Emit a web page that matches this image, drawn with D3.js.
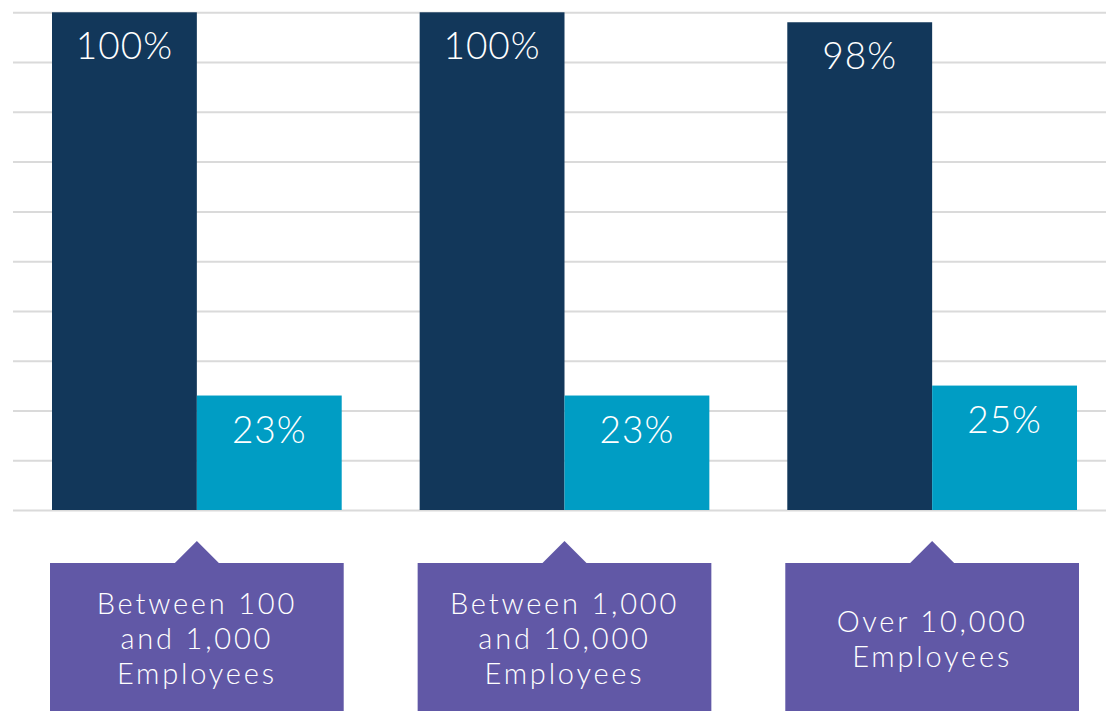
<!DOCTYPE html>
<html>
<head>
<meta charset="utf-8">
<script src="https://cdn.jsdelivr.net/npm/d3@7/dist/d3.min.js"></script>
<style>
  html, body { margin: 0; padding: 0; background: #ffffff; }
  svg { display: block; }
  text { font-family: Lato, "Open Sans", sans-serif; }
</style>
</head>
<body>
<svg id="chart" width="1106" height="711"></svg>
<script>
const categories = ["Between 100 and 1,000 Employees", "Between 1,000 and 10,000 Employees", "Over 10,000 Employees"];
const categoryLines = [["Between 100", "and 1,000", "Employees"], ["Between 1,000", "and 10,000", "Employees"], ["Over 10,000", "Employees"]];
const seriesNames = ["Series A", "Series B"];
const seriesA = [100, 100, 98];
const seriesB = [23, 23, 25];
const yTicks = [0, 10, 20, 30, 40, 50, 60, 70, 80, 90, 100];

const colors = ["#12375a", "#009dc4"];
const purple = "#6158a6";

const svg = d3.select("#chart");
const W = 1106, H = 711;

const y = d3.scaleLinear().domain([0, 100]).range([510, 12.3]);
const x = d3.scaleBand().domain(categories).range([52, 1077]).paddingInner(0.212).paddingOuter(0);
const xs = d3.scaleBand().domain(seriesNames).range([0, x.bandwidth()]).padding(0);

// gridlines
const gridG = svg.append("g").attr("transform", "translate(13,0)")
  .call(d3.axisLeft(y).tickValues(yTicks).tickSize(-(W - 13)).tickFormat(""));
gridG.select(".domain").remove();
gridG.selectAll(".tick line").attr("stroke", "#dadada").attr("stroke-width", 2);

const data = categories.map((c, i) => ({cat: c, vals: [seriesA[i], seriesB[i]]}));

const groups = svg.append("g").selectAll("g.grp").data(data).join("g")
  .attr("class", "grp")
  .attr("transform", d => `translate(${x(d.cat)},0)`);

groups.selectAll("rect").data(d => d.vals.map((v, j) => ({s: seriesNames[j], v, j})))
  .join("rect")
  .attr("x", d => xs(d.s))
  .attr("y", d => y(d.v))
  .attr("width", xs.bandwidth())
  .attr("height", d => y(0) - y(d.v))
  .attr("fill", d => colors[d.j]);

groups.selectAll("text.val").data(d => d.vals.map((v, j) => ({s: seriesNames[j], v, j})))
  .join("text")
  .attr("class", "val")
  .attr("x", d => xs(d.s) + xs.bandwidth() / 2)
  .attr("y", d => y(d.v) + 47)
  .attr("text-anchor", "middle")
  .attr("fill", "#ffffff")
  .attr("font-size", 37)
  .attr("font-weight", 300)
  .attr("letter-spacing", 1)
  .text(d => d.v + "%");

// category callout boxes
const boxTop = 563, boxBottom = 711, tri = 22;
const boxes = svg.append("g").selectAll("g.box").data(categories).join("g")
  .attr("class", "box");
boxes.append("path")
  .attr("fill", purple)
  .attr("d", d => {
    const x0 = x(d) - 2, x1 = x(d) + x.bandwidth() + 2, cx = x(d) + x.bandwidth() / 2;
    return `M${x0},${boxTop}L${cx - tri},${boxTop}L${cx},${boxTop - tri}L${cx + tri},${boxTop}L${x1},${boxTop}L${x1},${boxBottom}L${x0},${boxBottom}Z`;
  });
boxes.each(function(d, i) {
  const lines = categoryLines[i];
  const lh = 35;
  const cx = x(d) + x.bandwidth() / 2;
  const mid = (boxTop + boxBottom) / 2;
  const firstBase = mid - (lines.length - 1) * lh / 2 + 12;
  d3.select(this).selectAll("text").data(lines).join("text")
    .attr("x", cx)
    .attr("y", (l, k) => firstBase + k * lh)
    .attr("text-anchor", "middle")
    .attr("fill", "#ffffff")
    .attr("font-size", 29)
    .attr("font-weight", 300)
    .attr("letter-spacing", 2.8)
    .text(l => l);
});
</script>
</body>
</html>
